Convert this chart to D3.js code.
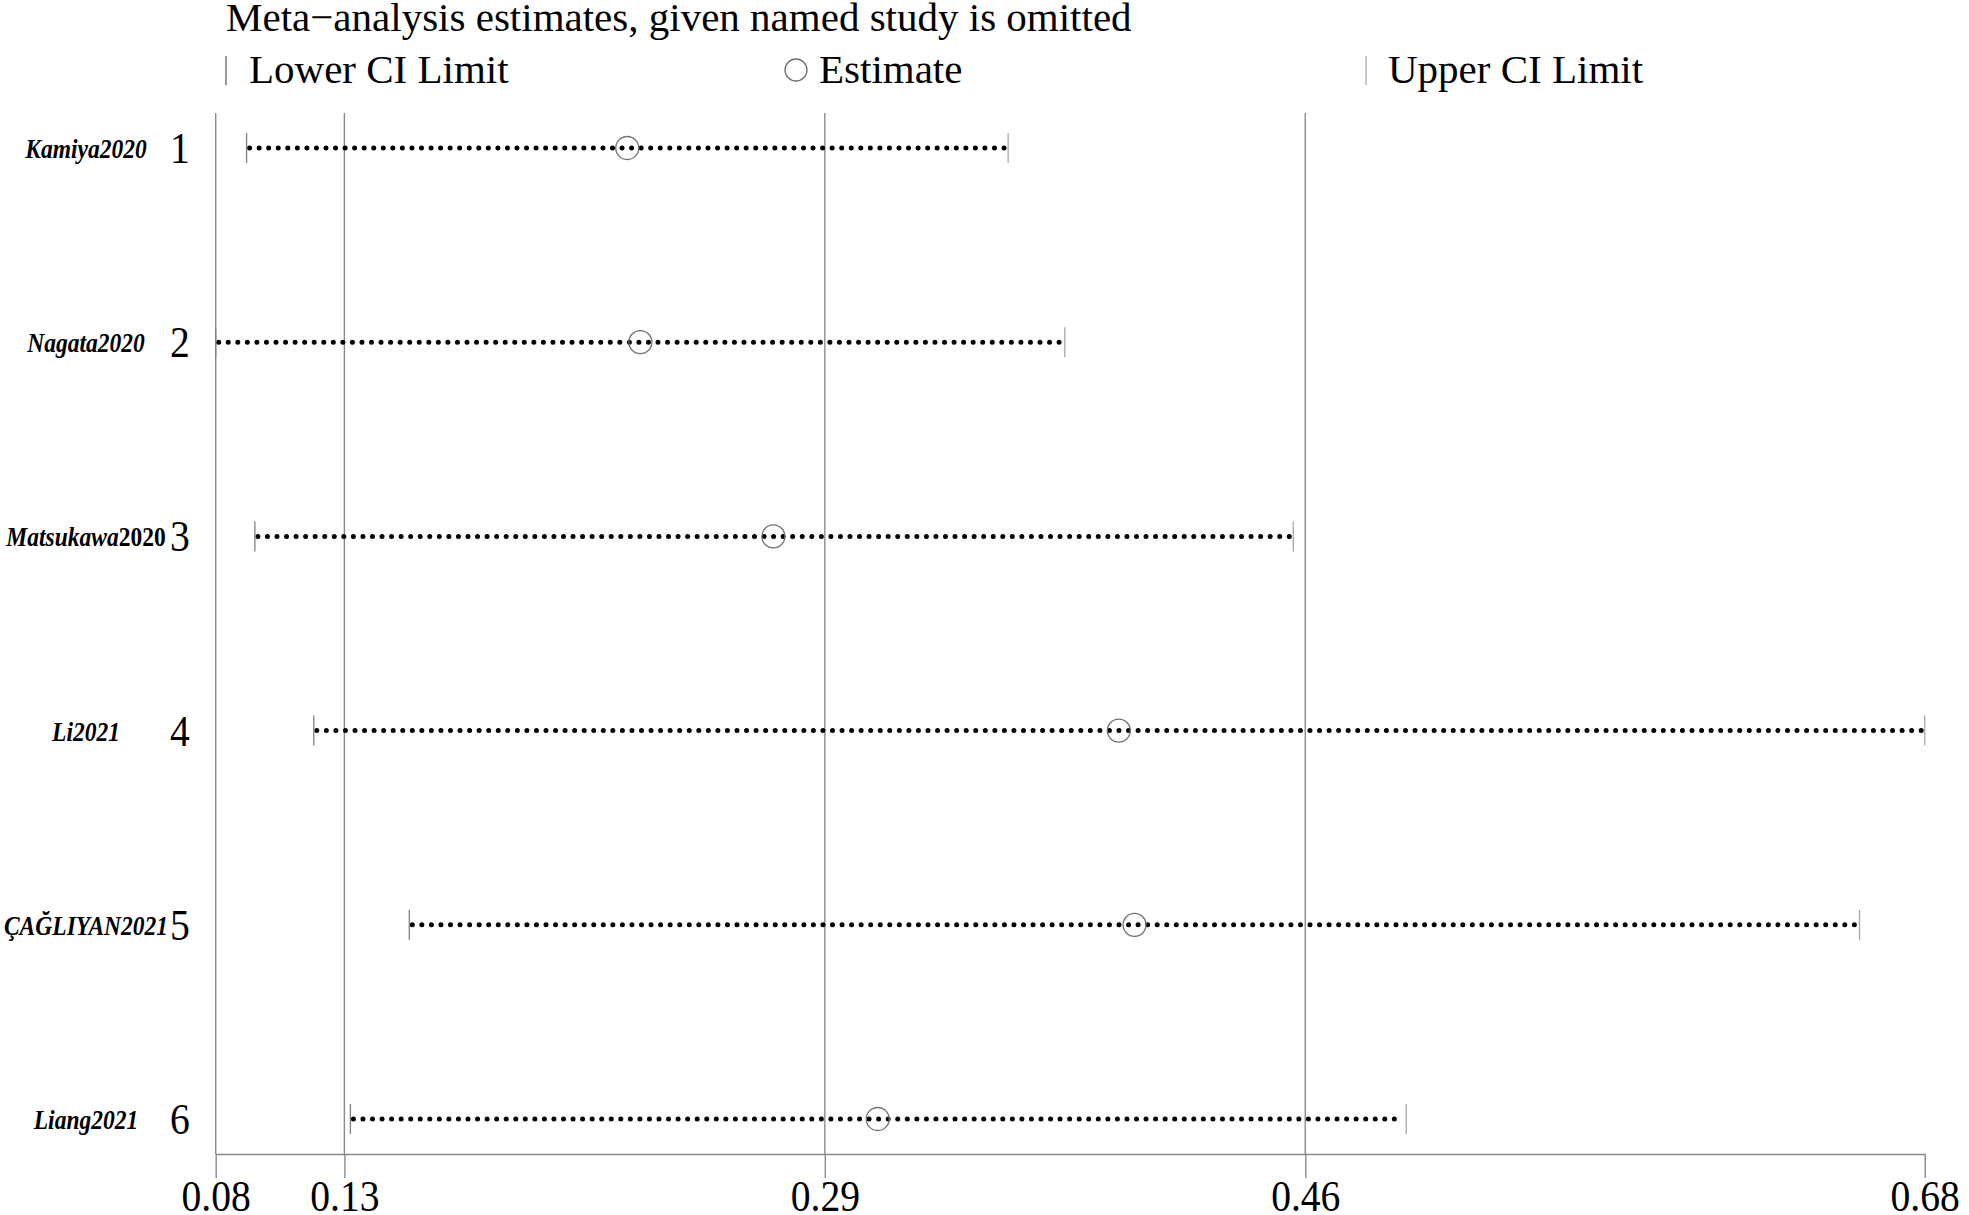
<!DOCTYPE html>
<html>
<head>
<meta charset="utf-8">
<script src="https://cdn.jsdelivr.net/npm/d3@7"></script>
<style>
  html, body { margin: 0; padding: 0; background: #fff; }
  svg { display: block; }
  text { font-family: "Liberation Serif", "Times New Roman", serif; fill: #000; }
</style>
</head>
<body>
<script>
// ---- data ----
const studies = ["Kamiya2020", "Nagata2020", "Matsukawa2020", "Li2021", "ÇAĞLIYAN2021", "Liang2021"];
const studyNumbers = ["1", "2", "3", "4", "5", "6"];
const estimate = [0.2249, 0.2295, 0.2760, 0.3968, 0.4023, 0.3125];
const lowerCI  = [0.0918, 0.0810, 0.0947, 0.1153, 0.1487, 0.1281];
const upperCI  = [0.3581, 0.3779, 0.4578, 0.6786, 0.6558, 0.4973];
const tickValues = [0.0810, 0.1260, 0.2940, 0.4620, 0.6786];
const tickLabels = ["0.08", "0.13", "0.29", "0.46", "0.68"];
const gridValues = [0.0810, 0.1260, 0.2940, 0.4620];
const uprightYear = ["Matsukawa2020"];
const titleText = "Meta\u2212analysis estimates, given named study is omitted";
const legendLabels = ["Lower CI Limit", "Estimate", "Upper CI Limit"];

// ---- layout ----
const W = 1969, H = 1215;
const plotLeft = 215.7, plotRight = 1924.7;
const plotTop = 113, axisY = 1154, tickBottom = 1178;
const rowTop = 148, rowBottom = 1119;

const svg = d3.select("body").append("svg").attr("width", W).attr("height", H);

const x = d3.scaleLinear().domain([tickValues[0], tickValues[tickValues.length - 1]]).range([plotLeft, plotRight]);
const y = d3.scalePoint().domain(studies).range([rowTop, rowBottom]);

const gridColor = "#8a8a8a";

// vertical reference lines
svg.append("g").selectAll("line").data(gridValues).join("line")
  .attr("x1", d => x(d)).attr("x2", d => x(d))
  .attr("y1", plotTop).attr("y2", axisY)
  .attr("stroke", gridColor).attr("stroke-width", 1.4);

// bottom axis via d3
const axis = d3.axisBottom(x).tickValues(tickValues)
  .tickFormat((d, i) => tickLabels[i]).tickSize(tickBottom - axisY).tickSizeOuter(0);
const gAxis = svg.append("g").attr("transform", `translate(0,${axisY})`).call(axis);
gAxis.select(".domain").attr("stroke", gridColor).attr("stroke-width", 1.4);
gAxis.selectAll(".tick line").attr("stroke", gridColor).attr("stroke-width", 1.4);
gAxis.selectAll(".tick text")
  .attr("font-family", "Liberation Serif").attr("font-size", 44).attr("fill", "#000")
  .attr("dy", null).attr("y", 0)
  .attr("transform", "translate(0,57) scale(0.9,1)");

// dotted CI lines
const rows = studies.map((s, i) => ({ s, i, est: estimate[i], lo: lowerCI[i], hi: upperCI[i] }));
svg.append("g").selectAll("line").data(rows).join("line")
  .attr("x1", d => x(d.lo) + 3).attr("x2", d => x(d.hi) - 3)
  .attr("y1", d => y(d.s)).attr("y2", d => y(d.s))
  .attr("stroke", "#000").attr("stroke-width", 5)
  .attr("stroke-linecap", "round").attr("stroke-dasharray", "0 9.55");

// lower / upper CI ticks
svg.append("g").selectAll("line").data(rows).join("line")
  .attr("x1", d => x(d.lo)).attr("x2", d => x(d.lo))
  .attr("y1", d => y(d.s) - 15).attr("y2", d => y(d.s) + 15)
  .attr("stroke", "#808080").attr("stroke-width", 1.3);
svg.append("g").selectAll("line").data(rows).join("line")
  .attr("x1", d => x(d.hi)).attr("x2", d => x(d.hi))
  .attr("y1", d => y(d.s) - 15).attr("y2", d => y(d.s) + 15)
  .attr("stroke", "#a8a8a8").attr("stroke-width", 1.3);

// estimate circles
svg.append("g").selectAll("circle").data(rows).join("circle")
  .attr("cx", d => x(d.est)).attr("cy", d => y(d.s)).attr("r", 11.5)
  .attr("fill", "none").attr("stroke", "#707070").attr("stroke-width", 1.3);

// study labels
const lab = svg.append("g").selectAll("text").data(rows).join("text")
  .attr("x", 0).attr("y", 0)
  .attr("transform", d => `translate(86,${y(d.s) + 10}) scale(0.84,1)`)
  .attr("text-anchor", "middle").attr("font-size", 28)
  .attr("font-weight", "bold");
lab.each(function (d) {
  const t = d3.select(this);
  if (uprightYear.includes(d.s)) {
    const m = d.s.match(/^(\D+)(\d+)$/);
    t.append("tspan").attr("font-style", "italic").text(m[1]);
    t.append("tspan").attr("font-style", "normal").text(m[2]);
  } else {
    t.attr("font-style", "italic").text(d.s);
  }
});

// study numbers
svg.append("g").selectAll("text").data(rows).join("text")
  .attr("x", 0).attr("y", 0)
  .attr("transform", d => `translate(180,${y(d.s) + 15}) scale(0.9,1)`)
  .attr("text-anchor", "middle").attr("font-size", 44)
  .text(d => studyNumbers[d.i]);

// title
svg.append("text").attr("x", 226).attr("y", 31).attr("font-size", 41).text(titleText);

// legend
const legY = 83;
svg.append("line").attr("x1", 226).attr("x2", 226).attr("y1", 56).attr("y2", 85)
  .attr("stroke", "#606060").attr("stroke-width", 1.3);
svg.append("text").attr("x", 249).attr("y", legY).attr("font-size", 41).text(legendLabels[0]);
svg.append("circle").attr("cx", 796).attr("cy", 70).attr("r", 11)
  .attr("fill", "none").attr("stroke", "#707070").attr("stroke-width", 1.3);
svg.append("text").attr("x", 819).attr("y", legY).attr("font-size", 41).text(legendLabels[1]);
svg.append("line").attr("x1", 1366).attr("x2", 1366).attr("y1", 56).attr("y2", 85)
  .attr("stroke", "#a8a8a8").attr("stroke-width", 1.3);
svg.append("text").attr("x", 1388).attr("y", legY).attr("font-size", 41).text(legendLabels[2]);
</script>
</body>
</html>
